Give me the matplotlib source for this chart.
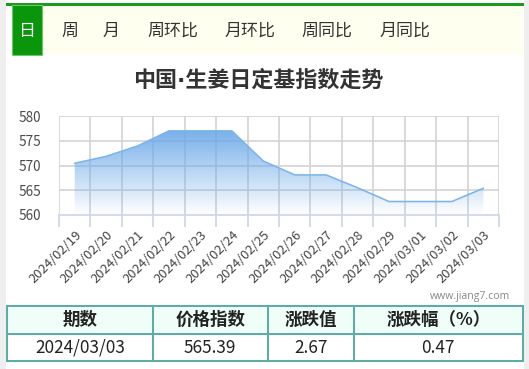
import matplotlib
matplotlib.use("Agg")
import matplotlib.pyplot as plt
import numpy as np
from matplotlib.patches import Rectangle, Polygon

plt.rcParams['font.family'] = ['Noto Sans CJK SC', 'DejaVu Sans']

# ---- data ----
dates = ["2024/02/19", "2024/02/20", "2024/02/21", "2024/02/22", "2024/02/23",
         "2024/02/24", "2024/02/25", "2024/02/26", "2024/02/27", "2024/02/28",
         "2024/02/29", "2024/03/01", "2024/03/02", "2024/03/03"]
values = [570.45, 571.85, 573.95, 577.0, 577.0, 577.0, 570.9, 568.1, 568.1,
          565.5, 562.72, 562.72, 562.72, 565.39]
y_ticks = [560, 565, 570, 575, 580]
tabs = ["日", "周", "月", "周环比", "月环比", "周同比", "月同比"]
title = "中国·生姜日定基指数走势"
table_header = ["期数", "价格指数", "涨跌值", "涨跌幅（%）"]
table_row = ["2024/03/03", "565.39", "2.67", "0.47"]

W, H = 529, 369
fig = plt.figure(figsize=(W / 100, H / 100), dpi=100)
fig.patch.set_facecolor("white")

# background overlay axes in pixel coordinates
bg = fig.add_axes([0, 0, 1, 1], zorder=0)
bg.set_xlim(0, W)
bg.set_ylim(H, 0)
bg.axis("off")

def px(v):
    return v * 72 / 100

# side strips
bg.add_patch(Rectangle((0, 0), 6, H, color="#efefef", lw=0))
bg.add_patch(Rectangle((524, 0), W - 524, H, color="#efefef", lw=0))

# tab bar
bg.add_patch(Rectangle((12, 5), 511, 50, color="#fffff0", lw=0))
bg.add_patch(Rectangle((6, 3), 518, 2.5, color="#1c9a1c", lw=0))
bg.add_patch(Rectangle((12, 5), 30, 50, facecolor="#0a960a", edgecolor="#6cc46c", lw=0.8))
tab_x = [27, 70, 111, 173, 250, 327, 405]
for i, (t, x) in enumerate(zip(tabs, tab_x)):
    bg.text(x, 31, t, ha="center", va="center", fontsize=px(17),
            color="white" if i == 0 else "#333333")

# title (DejaVu first so the middle dot stays narrow; CJK falls back to Noto)
bg.text(258, 80, title, ha="center", va="center", fontsize=px(22),
        fontweight="bold", color="#333333",
        family=["DejaVu Sans", "Noto Sans CJK SC"])

# watermark
bg.text(510, 296, "www.jiang7.com", ha="right", va="center", fontsize=px(10.5),
        color="#888888", family=["Open Sans", "DejaVu Sans"])

# table
col_edges = [6.7, 152.8, 267.5, 353.6, 523]
top, mid, bot = 306, 334, 361
bg.add_patch(Rectangle((col_edges[0], top), col_edges[-1] - col_edges[0], mid - top,
                       color="#effff8", lw=0))
border = "#5aaea6"
for yv in (top, mid, bot):
    bg.plot([col_edges[0], col_edges[-1]], [yv, yv], color=border, lw=px(2), solid_capstyle="projecting")
for xv in col_edges:
    bg.plot([xv, xv], [top, bot], color=border, lw=px(2), solid_capstyle="projecting")
for i in range(4):
    cx = (col_edges[i] + col_edges[i + 1]) / 2
    bg.text(cx, (top + mid) / 2, table_header[i], ha="center", va="center",
            fontsize=px(17.5), fontweight="bold", color="#222222")
    bg.text(cx, (mid + bot) / 2 + 0.5, table_row[i], ha="center", va="center",
            fontsize=px(17.2), color="#222222")

# ---- chart ----
pl, pr, pt, pb = 59, 499, 116, 215
ax = fig.add_axes([pl / W, 1 - pb / H, (pr - pl) / W, (pb - pt) / H], zorder=2)
ax.set_facecolor("none")
n = len(values)
xs = np.arange(n)
ax.set_xlim(-0.5, n - 0.5)
ax.set_ylim(560, 580)

# gradient fill clipped to area
vmax = max(values)
grad = np.linspace(0, 1, 256).reshape(-1, 1)
rgba = np.zeros((256, 1, 4))
rgba[..., 0] = 0.42
rgba[..., 1] = 0.66
rgba[..., 2] = 0.91
rgba[..., 3] = grad * 0.92
img = ax.imshow(rgba, extent=[-0.5, n - 0.5, 560, vmax], origin="lower",
                aspect="auto", zorder=1, interpolation="bilinear")
poly_pts = [(xs[0], 560)] + list(zip(xs, values)) + [(xs[-1], 560)]
poly = Polygon(poly_pts, closed=True, facecolor="none", edgecolor="none")
ax.add_patch(poly)
img.set_clip_path(poly)
ax.plot(xs, values, color="#7cb5ec", lw=px(1.6), zorder=3)
ax.set_xlim(-0.5, n - 0.5)
ax.set_ylim(560, 580)

# grid
grid_c = "#d4d4d4"
for yv in y_ticks[1:]:
    ax.axhline(yv, color=grid_c, lw=px(1.7), zorder=0.5)
for b in np.arange(-0.5, n, 1.0):
    ax.axvline(b, color=grid_c, lw=px(1.7), zorder=0.5)

for s in ["top", "right", "left"]:
    ax.spines[s].set_visible(False)
ax.spines["bottom"].set_color("#ccd6eb")
ax.spines["bottom"].set_linewidth(px(1.7))
ax.spines["bottom"].set_zorder(4)

ax.set_yticks(y_ticks)
ax.set_yticklabels([str(v) for v in y_ticks], fontsize=px(13.5), color="#4a4a4a")
ax.tick_params(axis="y", length=0, pad=px(18))

ax.set_xticks(xs)
ax.set_xticklabels(dates, rotation=45, ha="right", va="top", rotation_mode="anchor",
                   fontsize=px(13), color="#444444")
ax.tick_params(axis="x", which="major", length=0, pad=px(13))
ax.set_xticks(np.arange(-0.5, n, 1.0), minor=True)
ax.tick_params(axis="x", which="minor", length=px(12), width=px(1.7), color="#ccd6eb",
               direction="out")

fig.savefig("out.png", dpi=100)
